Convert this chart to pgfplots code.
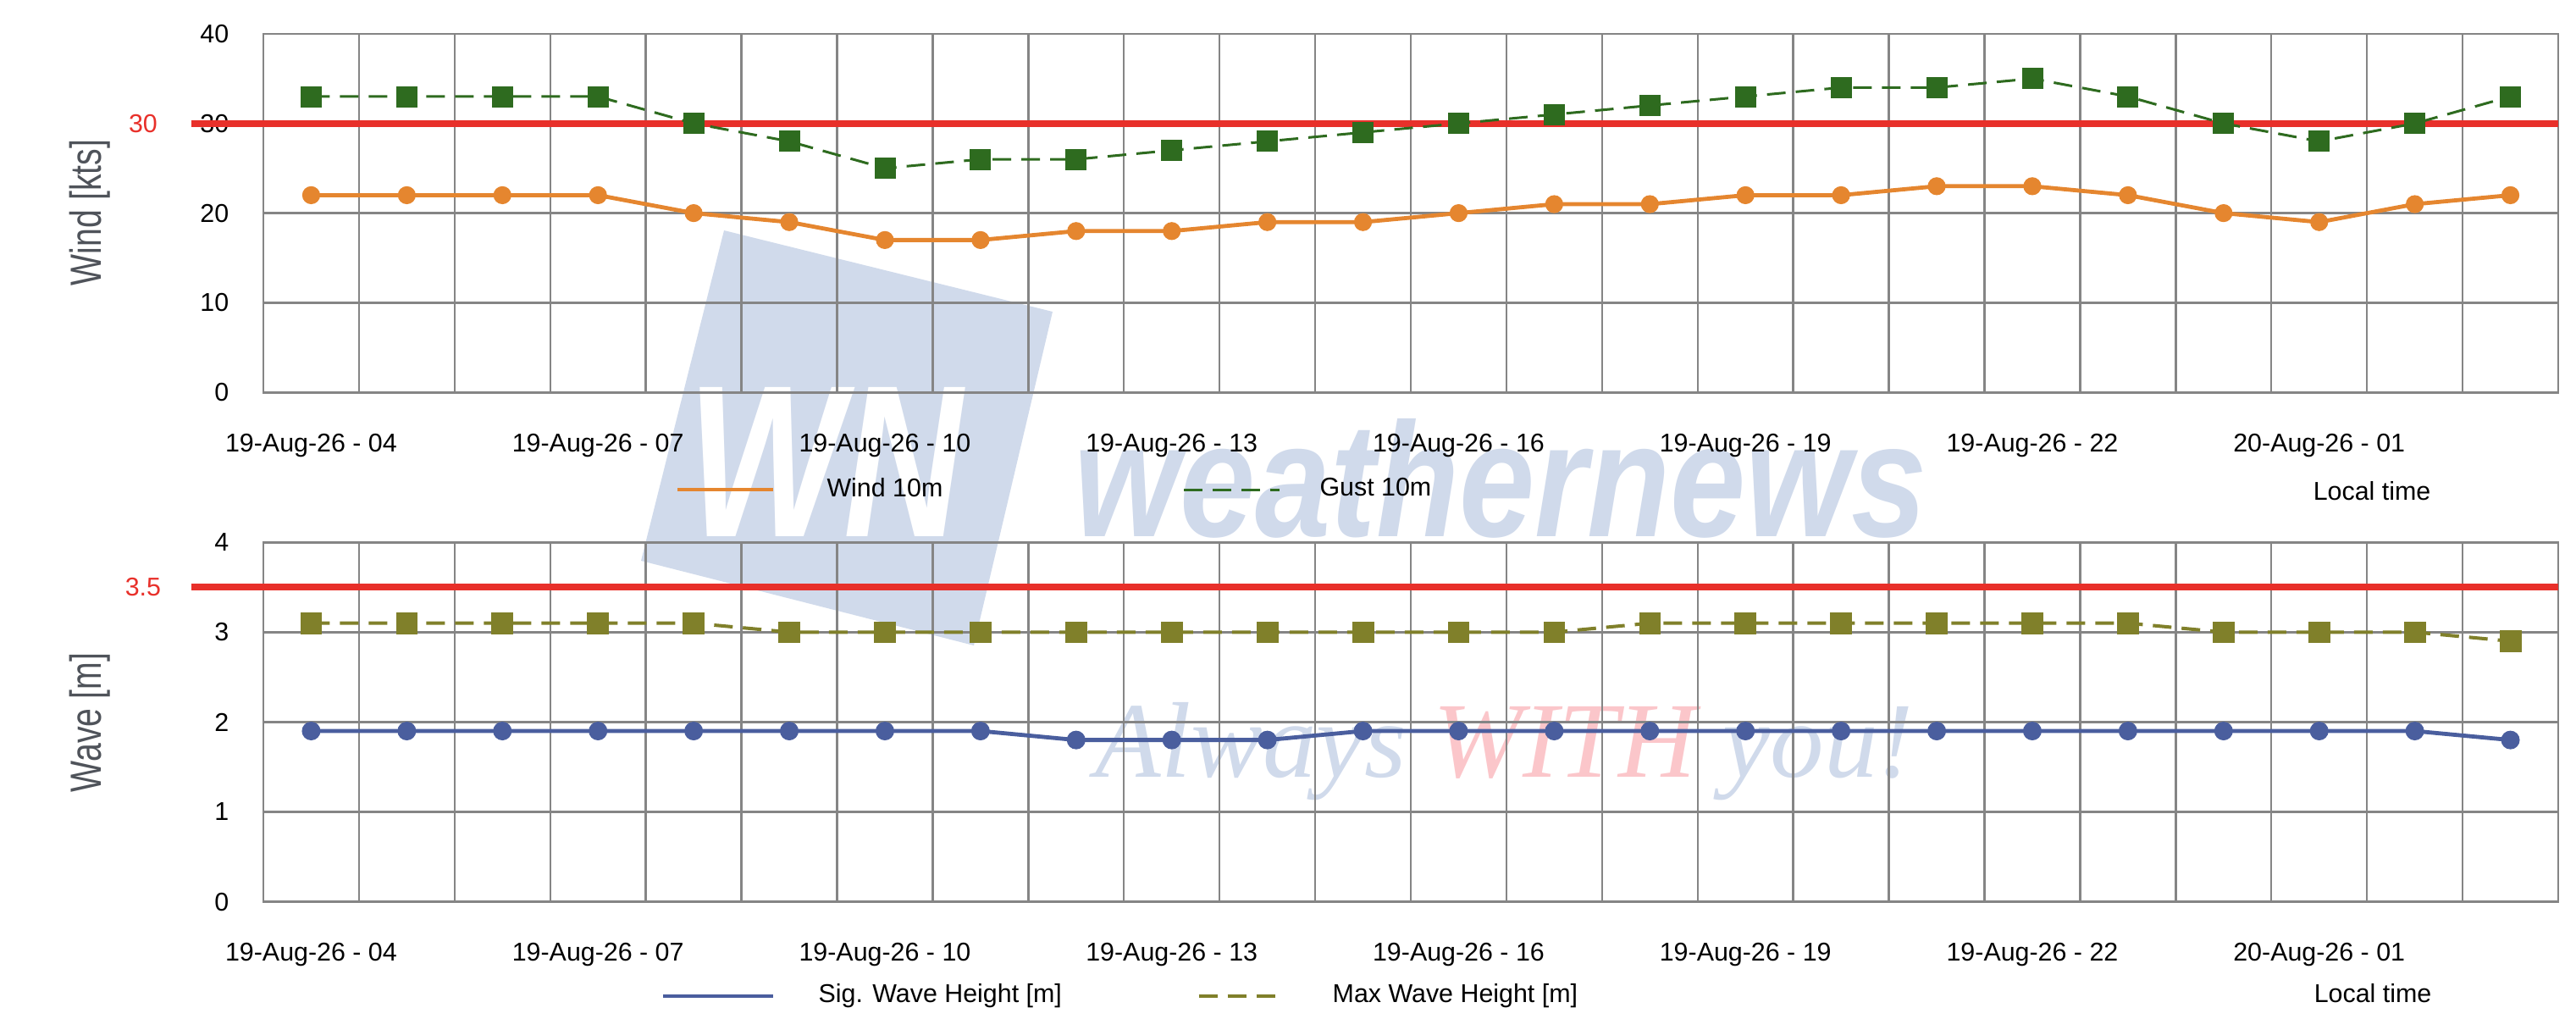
\documentclass[border=0pt]{standalone}
\usepackage{fontspec}
\setmainfont{Liberation Sans}
\newfontfamily\serifit{Liberation Serif}
\usepackage{graphicx}
\usepackage{pgfplots}
\usepackage{pgfplotstable}
\pgfplotsset{compat=1.18}

\definecolor{windc}{HTML}{E5862F}
\definecolor{gustc}{HTML}{2E6B1F}
\definecolor{sigc}{HTML}{4A5E9E}
\definecolor{maxc}{HTML}{80802A}
\definecolor{redc}{HTML}{E8302A}
\definecolor{gridc}{HTML}{858585}
\definecolor{wmblue}{HTML}{D0DAEB}
\definecolor{wmpink}{HTML}{FBC6CA}
\definecolor{labc}{HTML}{4F535A}

\pgfplotstableread{
x wind gust sig max
0 22 33 1.9 3.1
1 22 33 1.9 3.1
2 22 33 1.9 3.1
3 22 33 1.9 3.1
4 20 30 1.9 3.1
5 19 28 1.9 3.0
6 17 25 1.9 3.0
7 17 26 1.9 3.0
8 18 26 1.8 3.0
9 18 27 1.8 3.0
10 19 28 1.8 3.0
11 19 29 1.9 3.0
12 20 30 1.9 3.0
13 21 31 1.9 3.0
14 21 32 1.9 3.1
15 22 33 1.9 3.1
16 22 34 1.9 3.1
17 23 34 1.9 3.1
18 23 35 1.9 3.1
19 22 33 1.9 3.1
20 20 30 1.9 3.0
21 19 28 1.9 3.0
22 21 30 1.9 3.0
23 22 33 1.8 2.9
}\data

\pgfplotsset{
  limg/.style={legend image code/.code={\draw[##1] (0pt,0pt) -- (#1,0pt);}},
  mystyle/.style={
    scale only axis, width=677.5pt,
    anchor=south west,
    xmin=-0.5, xmax=23.5,
    xtick={0,3,...,21},
    xticklabels={19-Aug-26 - 04,19-Aug-26 - 07,19-Aug-26 - 10,19-Aug-26 - 13,19-Aug-26 - 16,19-Aug-26 - 19,19-Aug-26 - 22,20-Aug-26 - 01},
    minor xtick={-0.5,0.5,...,23.5},
    xminorgrids=true, ymajorgrids=true, xmajorgrids=false,
    major tick length=0pt, minor tick length=0pt,
    axis line style={gridc, line width=0.65pt},
    major grid style={gridc, line width=0.65pt},
    minor grid style={gridc, line width=0.6pt},
    tick label style={font=\fontsize{7.6}{9}\selectfont, black},
    /pgf/number format/assume math mode=true,
    yticklabel style={inner sep=0pt, anchor=east, xshift=-10pt},
    xticklabel style={inner sep=0pt, anchor=north, yshift=-12pt},
    clip=false,
    legend cell align=left,
    limg=28.25pt,
  }
}

\begin{document}
\begin{tikzpicture}
\useasboundingbox (0,0) rectangle (760.5pt,303.75pt);

% watermark (pixel units, y up)
\begin{scope}[x=0.25pt,y=0.25pt]
  \fill[wmblue] (855,943) -- (1243,847) -- (1150,453) -- (757,553) -- cycle;
  \node[white, anchor=base west, inner sep=0pt] at (812,582) {\fontsize{64}{64}\selectfont\bfseries\itshape\scalebox{0.76}[1]{WN}};
  \node[wmblue, anchor=base west, inner sep=0pt] at (1268,582) {\fontsize{48}{48}\selectfont\bfseries\itshape\scalebox{0.835}[1]{weathernews}};
  \node[anchor=base west, inner sep=0pt] at (1293,298) {\fontsize{31.75}{34}\serifit\itshape\textcolor{wmblue}{Always} \textcolor{wmpink}{WITH} \textcolor{wmblue}{you!}};
\end{scope}

% top axis
\begin{axis}[mystyle,
  at={(77.75pt,187.9pt)}, height=105.9pt,
  ymin=0, ymax=40, ytick={0,10,20,30,40},
  legend style={at={(0.1793,-0.2707)}, anchor=west, draw=none, fill=none,
    inner sep=0pt, legend columns=2, font=\fontsize{7.6}{9}\selectfont,
    nodes={inner sep=0pt},
    /tikz/column 1/.style={column sep=15.25pt},
    /tikz/column 3/.style={column sep=11.5pt}},
]
\addplot[redc, line width=2.1pt, forget plot] coordinates {(-1.253,30) (23.5,30)};
\addplot[windc, line width=1.2pt, mark=*, mark size=2.5pt, mark options={solid, fill=windc, draw=windc, line width=0.3pt}] table[x=x,y=wind]{\data};
\addlegendentry{\makebox[105pt][l]{Wind 10m}}
\addplot[gustc, line width=0.75pt, dash pattern=on 5.5pt off 3pt, mark=square*, mark size=3pt, mark options={solid, fill=gustc, draw=gustc, line width=0.2pt}] table[x=x,y=gust]{\data};
\addlegendentry{Gust 10m}
\node[redc, inner sep=0pt] at (axis cs:-1.758,30) {\fontsize{7.6}{9}\selectfont 30};
\end{axis}

% bottom axis
\begin{axis}[mystyle,
  at={(77.75pt,37.6pt)}, height=106.1pt,
  ymin=0, ymax=4, ytick={0,1,2,3,4},
  legend style={at={(0.1731,-0.2623)}, anchor=west, draw=none, fill=none,
    inner sep=0pt, legend columns=2, font=\fontsize{7.6}{9}\selectfont,
    nodes={inner sep=0pt},
    /tikz/column 1/.style={column sep=12.75pt},
    /tikz/column 3/.style={column sep=15.5pt}},
]
\addplot[redc, line width=2.1pt, forget plot] coordinates {(-1.253,3.5) (23.5,3.5)};
\addplot[sigc, line width=1.2pt, mark=*, mark size=2.6pt, mark options={solid, fill=sigc, draw=sigc, line width=0.3pt}, limg=32.5pt] table[x=x,y=sig]{\data};
\addlegendentry{\makebox[111.75pt][l]{Sig. Wave Height [m]}}
\addplot[maxc, line width=1pt, dash pattern=on 5.5pt off 3pt, mark=square*, mark size=3.1pt, mark options={solid, fill=maxc, draw=maxc, line width=0.2pt}, limg=23.5pt] table[x=x,y=max]{\data};
\addlegendentry{Max Wave Height [m]}
\node[redc, inner sep=0pt] at (axis cs:-1.758,3.5) {\fontsize{7.6}{9}\selectfont 3.5};
\end{axis}

% labels in pixel units
\begin{scope}[x=0.25pt,y=0.25pt]
  \node[rotate=90, text=labc, inner sep=0pt] at (106,964) {\scalebox{0.76}[1]{\fontsize{12.9}{14}\selectfont Wind [kts]}};
  \node[rotate=90, text=labc, inner sep=0pt] at (106,362) {\scalebox{0.76}[1]{\fontsize{12.9}{14}\selectfont Wave [m]}};
  \node[anchor=west, inner sep=0pt] at (2731,635) {\fontsize{7.6}{9}\selectfont Local time};
  \node[anchor=west, inner sep=0pt] at (2732,42) {\fontsize{7.6}{9}\selectfont Local time};
\end{scope}
\end{tikzpicture}
\end{document}
